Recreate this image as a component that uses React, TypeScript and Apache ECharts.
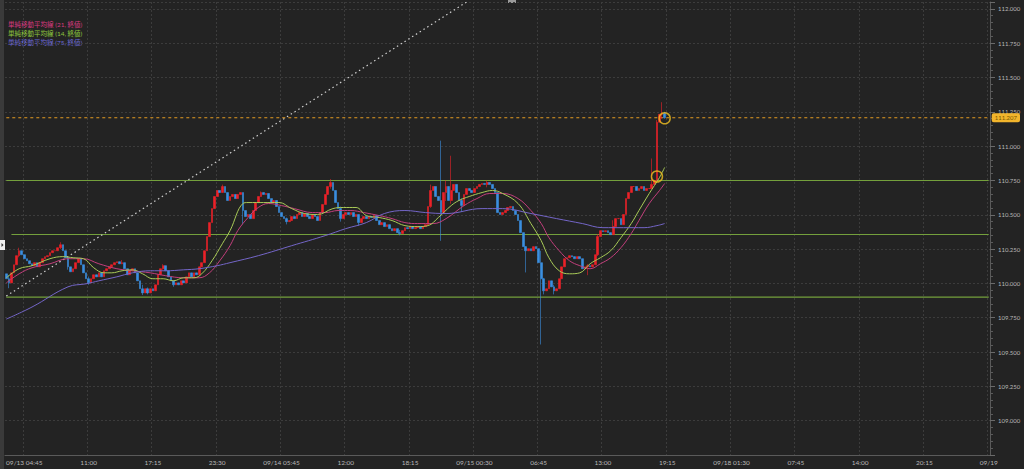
import React, { useEffect, useRef } from "react";
import * as echarts from "echarts";

// ---- axis labels (15-minute bars, one label every 25 bars) ----
const TICK_LABELS = [
  "09/13 04:45", "11:00", "17:15", "23:30", "09/14 05:45", "12:00", "18:15",
  "09/15 00:30", "06:45", "13:00", "19:15", "09/18 01:30", "07:45", "14:00",
  "20:15", "09/19",
];
const FIRST_TICK_INDEX = 7;
const TICK_STEP = 25;
const MINOR_STEP = 5;
const SLOT_COUNT = 383;

// ---- candles (USD/JPY 15 min) ----
const FIRST_OPEN = 110.07;
const CLOSES = [
  110.034, 110.004, 110.077, 110.136, 110.202, 110.238, 110.209, 110.18, 110.165, 110.143,
  110.129, 110.151, 110.121, 110.151, 110.18, 110.195, 110.202, 110.224, 110.238, 110.238,
  110.26, 110.282, 110.238, 110.187, 110.121, 110.085, 110.107, 110.151, 110.18, 110.136,
  110.077, 110.034, 110.004, 110.034, 110.063, 110.048, 110.077, 110.048, 110.092, 110.107,
  110.121, 110.136, 110.151, 110.158, 110.143, 110.151, 110.107, 110.063, 110.092, 110.107,
  110.077, 110.019, 109.961, 109.931, 109.961, 109.931, 109.961, 109.946, 109.99, 110.063,
  110.107, 110.129, 110.092, 110.048, 110.019, 109.99, 110.004, 109.99, 110.019, 110.004,
  110.048, 110.077, 110.048, 110.077, 110.063, 110.121, 110.151, 110.238, 110.341, 110.443,
  110.545, 110.633, 110.677, 110.662, 110.706, 110.662, 110.604, 110.633, 110.648, 110.618,
  110.648, 110.662, 110.531, 110.487, 110.502, 110.472, 110.531, 110.589, 110.633, 110.662,
  110.648, 110.655, 110.618, 110.589, 110.604, 110.56, 110.516, 110.487, 110.472, 110.45,
  110.458, 110.487, 110.472, 110.502, 110.516, 110.487, 110.509, 110.487, 110.472, 110.502,
  110.487, 110.458, 110.516, 110.575, 110.648, 110.706, 110.735, 110.677, 110.589, 110.545,
  110.472, 110.502, 110.516, 110.502, 110.516, 110.487, 110.502, 110.443, 110.472, 110.487,
  110.472, 110.487, 110.48, 110.494, 110.458, 110.428, 110.443, 110.414, 110.428, 110.399,
  110.384, 110.399, 110.37, 110.363, 110.384, 110.406, 110.399, 110.414, 110.399, 110.406,
  110.414, 110.399, 110.414, 110.428, 110.56, 110.677, 110.706, 110.633, 110.604, 110.516,
  110.662, 110.706, 110.604, 110.677, 110.721, 110.662, 110.604, 110.567, 110.648, 110.691,
  110.677, 110.662, 110.691, 110.706, 110.721, 110.728, 110.721, 110.735, 110.721, 110.691,
  110.662, 110.516, 110.502, 110.516, 110.531, 110.553, 110.56, 110.531, 110.502, 110.458,
  110.37, 110.268, 110.238, 110.253, 110.238, 110.268, 110.253, 110.151, 110.034, 109.946,
  109.961, 110.019, 109.975, 109.946, 109.961, 110.034, 110.121, 110.18, 110.187, 110.202,
  110.195, 110.18, 110.195, 110.18, 110.107, 110.121, 110.129, 110.121, 110.136, 110.209,
  110.341, 110.384, 110.377, 110.384, 110.37, 110.355, 110.414, 110.472, 110.472, 110.428,
  110.502, 110.618, 110.662, 110.706, 110.706, 110.677, 110.691, 110.706, 110.677, 110.691,
  110.691, 110.721, 110.75, 111.174, 111.232, 111.24, 111.207,
];
// [bar index, high, low] for bars whose wick reaches beyond the body
const WICKS = [
  [1, 110.06, 109.965], [5, 110.26, 110.19], [21, 110.3, 110.25], [24, 110.19, 110.1],
  [32, 110.05, 109.99], [45, 110.17, 110.14], [53, 109.99, 109.915], [55, 109.97, 109.92],
  [61, 110.14, 110.1], [65, 110.02, 109.975], [84, 110.72, 110.68], [92, 110.66, 110.43],
  [99, 110.67, 110.63], [109, 110.48, 110.43], [126, 110.76, 110.69], [130, 110.56, 110.45],
  [137, 110.5, 110.42], [153, 110.39, 110.35], [165, 110.72, 110.55], [169, 111.04, 110.31],
  [171, 110.75, 110.6], [173, 110.93, 110.58], [177, 110.62, 110.52], [187, 110.75, 110.7],
  [202, 110.27, 110.08], [208, 110.238, 109.555], [209, 110.04, 109.92], [213, 109.99, 109.92],
  [226, 110.14, 110.06], [230, 110.36, 110.2], [236, 110.46, 110.4], [251, 110.91, 110.69],
  [253, 111.19, 110.74], [255, 111.32, 111.2], [256, 111.25, 111.2],
];

// ---- simple moving averages: [bar index, value] ----
const MA21 = [
  [0, 110.004], [5, 110.07], [10, 110.114], [17, 110.143], [24, 110.18], [30, 110.18],
  [36, 110.143], [43, 110.107], [49, 110.092], [56, 110.077], [62, 110.056], [69, 110.041],
  [75, 110.041], [79, 110.077], [83, 110.165], [87, 110.275], [90, 110.384], [94, 110.48],
  [98, 110.553], [102, 110.582], [107, 110.567], [112, 110.545], [119, 110.516], [124, 110.516],
  [129, 110.531], [134, 110.531], [139, 110.516], [145, 110.494], [150, 110.472], [155, 110.443],
  [160, 110.436], [166, 110.436], [171, 110.472], [178, 110.567], [183, 110.618], [188, 110.655],
  [193, 110.655], [199, 110.618], [204, 110.531], [208, 110.436], [211, 110.333], [215, 110.238],
  [219, 110.165], [223, 110.129], [227, 110.107], [231, 110.143], [235, 110.187], [239, 110.26],
  [243, 110.363], [246, 110.458], [250, 110.582], [254, 110.677], [256, 110.728],
];
const MA14 = [
  [0, 110.041], [5, 110.107], [10, 110.129], [17, 110.18], [22, 110.195], [26, 110.187],
  [30, 110.18], [34, 110.114], [38, 110.077], [41, 110.077], [45, 110.092], [49, 110.099],
  [53, 110.07], [57, 110.034], [61, 110.034], [65, 110.019], [69, 110.041], [73, 110.041],
  [76, 110.07], [80, 110.165], [84, 110.289], [87, 110.384], [92, 110.582], [94, 110.589],
  [106, 110.589], [111, 110.545], [116, 110.509], [121, 110.502], [127, 110.545], [131, 110.553],
  [136, 110.553], [140, 110.494], [145, 110.48], [150, 110.458], [155, 110.421], [160, 110.414],
  [164, 110.421], [168, 110.48], [173, 110.567], [176, 110.604], [180, 110.633], [185, 110.662],
  [189, 110.677], [193, 110.655], [199, 110.582], [204, 110.436], [208, 110.311], [211, 110.187],
  [215, 110.092], [219, 110.07], [223, 110.077], [227, 110.143], [231, 110.187], [235, 110.238],
  [239, 110.333], [243, 110.436], [246, 110.531], [250, 110.655], [254, 110.772], [256, 110.845],
];
const MA75 = [
  [0, 109.74], [10, 109.828], [24, 109.975], [31, 109.997], [36, 110.019], [43, 110.048],
  [49, 110.077], [56, 110.092], [62, 110.092], [69, 110.099], [75, 110.107], [82, 110.129],
  [87, 110.151], [98, 110.202], [111, 110.275], [124, 110.348], [132, 110.399], [140, 110.443],
  [147, 110.509], [155, 110.531], [163, 110.516], [171, 110.509], [185, 110.545], [193, 110.545],
  [204, 110.509], [214, 110.472], [224, 110.436], [232, 110.406], [240, 110.406], [248, 110.406],
  [253, 110.421], [256, 110.436],
];

// ---- drawn annotations ----
const SUPPORT_LINES = [110.75, 110.356, 109.9];
const SUPPORT_STARTS = [0, 2, 0];
const CURRENT_PRICE = 111.207;
const TREND_LINE = [[0, 109.908], [179, 112.05]];
const CIRCLES = [[253, 110.779], [256, 111.203]];

const LEGEND = [
  { text: "単純移動平均線 (21, 終値)", color: "#d83a80" },
  { text: "単純移動平均線 (14, 終値)", color: "#8dc63f" },
  { text: "単純移動平均線 (75, 終値)", color: "#6d6ad8" },
];

const isTick = (i: number, step: number) => (((i - FIRST_TICK_INDEX) % step) + step) % step === 0;

export default function App() {
  const ref = useRef<HTMLDivElement>(null);
  useEffect(() => {
    if (!ref.current) return;
    const chart = echarts.init(ref.current, undefined, { renderer: "svg" });

    const categories: string[] = [];
    for (let i = 0; i < SLOT_COUNT; i++) {
      categories.push(isTick(i, TICK_STEP) ? TICK_LABELS[(i - FIRST_TICK_INDEX) / TICK_STEP] || "" : "");
    }
    const candles = CLOSES.map((c, i) => {
      const o = i === 0 ? FIRST_OPEN : CLOSES[i - 1];
      let hi = Math.max(o, c);
      let lo = Math.min(o, c);
      const w = WICKS.find((x) => x[0] === i);
      if (w) {
        hi = Math.max(hi, w[1]);
        lo = Math.min(lo, w[2]);
      }
      return [o, c, lo, hi];
    });
    const last = SLOT_COUNT - 1;
    const font = "Lato, 'Noto Sans CJK JP', sans-serif";

    const maSeries = (name: string, values: number[][], color: string) => ({
      type: "line",
      name,
      data: values,
      smooth: 0.4,
      symbol: "none",
      lineStyle: { color, width: 1 },
      itemStyle: { color },
      z: 3,
    });

    // straight annotation line between two data points
    const segment = (name: string, pts: number[][], color: string, type: any, width: number, endLabel?: any) => ({
      type: "line",
      name,
      data: pts,
      symbol: "none",
      silent: true,
      z: 2,
      lineStyle: { color, width, type },
      itemStyle: { color },
      endLabel: endLabel || { show: false },
    });

    chart.setOption({
      animation: false,
      backgroundColor: "#232323",
      textStyle: { fontFamily: font },
      grid: { left: 5, right: 34, top: 2, bottom: 14 },
      xAxis: [
        {
          type: "category",
          data: categories,
          boundaryGap: true,
          axisLine: { lineStyle: { color: "#5a5a5a" } },
          axisTick: {
            alignWithLabel: true,
            interval: (i: number) => isTick(i, MINOR_STEP),
            length: 3,
            lineStyle: { color: "#6a6a6a" },
          },
          axisLabel: {
            interval: (i: number) => isTick(i, TICK_STEP),
            color: "#b8b8b8",
            fontSize: 6.5,
            margin: 4,
            fontFamily: font,
          },
          splitLine: {
            show: true,
            interval: (i: number) => isTick(i, TICK_STEP),
            lineStyle: { color: "#3c3c3c", type: [2, 2] },
          },
        },
        {
          type: "category",
          data: categories,
          boundaryGap: true,
          axisLine: { show: false },
          axisTick: {
            alignWithLabel: true,
            interval: (i: number) => isTick(i, TICK_STEP),
            length: 6,
            lineStyle: { color: "#6a6a6a" },
          },
          axisLabel: { show: false },
          splitLine: { show: false },
        },
      ],
      yAxis: {
        type: "value",
        position: "right",
        min: 108.75,
        max: 112.05,
        interval: 0.25,
        axisLine: { show: true, lineStyle: { color: "#5a5a5a" } },
        axisTick: { show: true, length: 5, lineStyle: { color: "#6a6a6a" } },
        minorTick: { show: true, splitNumber: 5, length: 3, lineStyle: { color: "#5a5a5a" } },
        axisLabel: {
          color: "#b8b8b8",
          fontSize: 6,
          margin: 8,
          fontFamily: font,
          formatter: (v: number) => {
            const k = Math.round(v / 0.25);
            if (Math.abs(k * 0.25 - v) > 1e-6 || v < 108.8) return "";
            return v.toFixed(3);
          },
        },
        splitLine: { show: true, lineStyle: { color: "#3c3c3c", type: [2, 2] } },
      },
      series: [
        ...SUPPORT_LINES.map((v, k) =>
          segment("support" + k, [[SUPPORT_STARTS[k], v], [last, v]], "#74a03c", "solid", 1.1)
        ),
        segment("trend", TREND_LINE, "#d0d0d0", [1.5, 3], 1.2),
        segment("price", [[0, CURRENT_PRICE], [last, CURRENT_PRICE]], "#e39a22", [3, 3], 1.1, {
          show: true,
          distance: 3,
          formatter: () => CURRENT_PRICE.toFixed(3),
          backgroundColor: "#f2b52c",
          color: "#7a5800",
          fontSize: 6,
          padding: [2, 3, 1, 3],
          borderRadius: 2,
          fontFamily: font,
        }),
        {
          type: "candlestick",
          name: "USDJPY",
          data: candles,
          barWidth: "85%",
          z: 2,
          itemStyle: {
            color: "#ec2128",
            color0: "#3a8fe0",
            borderColor: "#ec2128",
            borderColor0: "#3a8fe0",
            borderWidth: 0.6,
          },
        },
        maSeries(LEGEND[0].text, MA21, "#c23f7c"),
        maSeries(LEGEND[1].text, MA14, "#a9cb58"),
        maSeries(LEGEND[2].text, MA75, "#7466c8"),
        {
          type: "scatter",
          name: "marks",
          data: CIRCLES,
          symbol: "circle",
          symbolSize: 11,
          itemStyle: { color: "rgba(0,0,0,0)", borderColor: "#f0c020", borderWidth: 1.5 },
          z: 5,
        },
      ],
      graphic: [
        { type: "rect", shape: { x: 0, y: 0, width: 4, height: 469 }, style: { fill: "#3a3a3a" } },
        { type: "rect", shape: { x: 0, y: 240, width: 5, height: 10 }, style: { fill: "#f0f0f0" } },
        { type: "polygon", shape: { points: [[1.5, 243], [3.5, 245], [1.5, 247]] }, style: { fill: "#333" } },
        { type: "rect", shape: { x: 508, y: 0, width: 8, height: 3 }, style: { fill: "#9a9a9a" } },
        ...LEGEND.map((l, k) => ({
          type: "text",
          x: 8,
          y: 24 + k * 9,
          style: {
            text: l.text,
            fill: l.color,
            fontSize: 6.5,
            fontFamily: font,
            verticalAlign: "middle",
          },
        })),
      ],
    });
    return () => chart.dispose();
  }, []);
  return (
    <div
      ref={ref}
      style={{ position: "fixed", left: 0, top: 0, width: 1024, height: 469 }}
    />
  );
}
